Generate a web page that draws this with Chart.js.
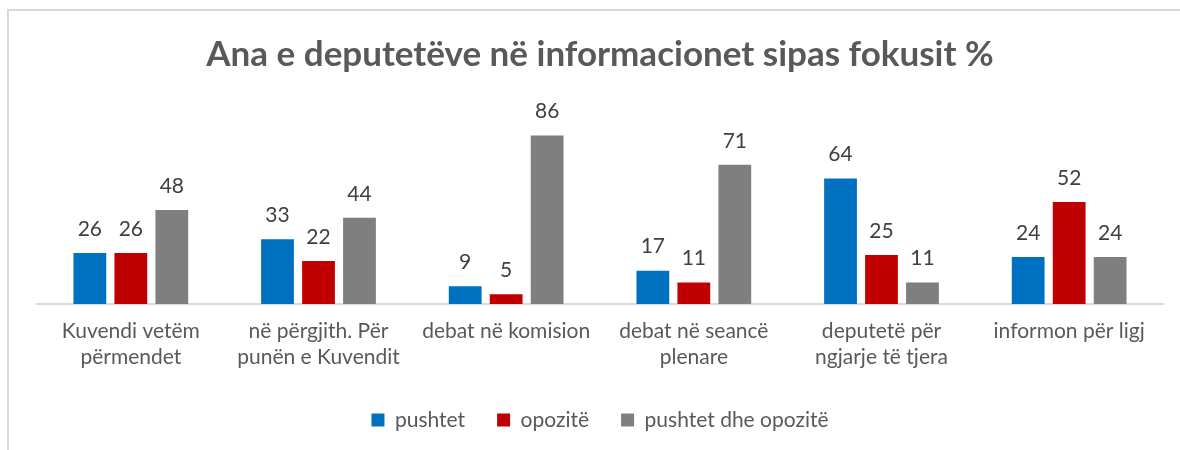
<!DOCTYPE html>
<html>
<head>
<meta charset="utf-8">
<script src="https://cdn.jsdelivr.net/npm/chart.js@4/dist/chart.umd.min.js"></script>
<style>
  html, body { margin: 0; padding: 0; background: #fff; overflow: hidden; }
  #wrap { position: relative; width: 1180px; height: 450px; }
  #frame { position: absolute; left: 7px; top: 9px; width: 1200px; height: 500px;
           border-left: 2px solid #d9d9d9; border-top: 2px solid #d9d9d9; }
  canvas { position: absolute; left: 0; top: 0; }
</style>
</head>
<body>
<div id="wrap">
  <div id="frame"></div>
  <canvas id="c" width="1180" height="450"></canvas>
</div>
<script>
const titleText = "Ana e deputetëve në informacionet sipas fokusit %";
const categories = [
  ["Kuvendi vetëm", "përmendet"],
  ["në përgjith. Për", "punën e Kuvendit"],
  "debat në komision",
  ["debat në seancë", "plenare"],
  ["deputetë për", "ngjarje të tjera"],
  "informon për ligj"
];
const seriesNames = ["pushtet", "opozitë", "pushtet dhe opozitë"];
const pushtet = [26, 33, 9, 17, 64, 24];
const opozite = [26, 22, 5, 11, 25, 52];
const pushtetDheOpozite = [48, 44, 86, 71, 11, 24];
const colors = ["#0070C0", "#C00000", "#7F7F7F"];

const FONT = "Lato, 'Open Sans', sans-serif";

const valueLabels = {
  id: 'valueLabels',
  afterDatasetsDraw(chart) {
    const ctx = chart.ctx;
    ctx.save();
    ctx.font = "21px " + FONT;
    ctx.fillStyle = "#404040";
    ctx.textAlign = "center";
    ctx.textBaseline = "middle";
    chart.data.datasets.forEach((ds, di) => {
      const meta = chart.getDatasetMeta(di);
      meta.data.forEach((bar, i) => {
        ctx.fillText(String(ds.data[i]), bar.x, bar.y - 24);
      });
    });
    ctx.restore();
  }
};

new Chart(document.getElementById('c'), {
  type: 'bar',
  data: {
    labels: categories,
    datasets: [
      { label: seriesNames[0], data: pushtet, backgroundColor: colors[0] },
      { label: seriesNames[1], data: opozite, backgroundColor: colors[1] },
      { label: seriesNames[2], data: pushtetDheOpozite, backgroundColor: colors[2] }
    ]
  },
  options: {
    responsive: false,
    animation: false,
    devicePixelRatio: 1,
    layout: { padding: { left: 37, right: 17, top: 0, bottom: 9.5 } },
    datasets: { bar: { categoryPercentage: 0.655, barPercentage: 0.8 } },
    scales: {
      x: {
        grid: { display: false, drawTicks: false },
        border: { display: true, color: "#d9d9d9", width: 2 },
        ticks: { color: "#595959", font: { family: FONT, size: 21, lineHeight: '26px' }, padding: 14, maxRotation: 0, autoSkip: false },
        afterFit(scale) { scale.height = 73.5; }
      },
      y: { display: false, min: 0, max: 100 }
    },
    plugins: {
      title: {
        display: true, text: titleText, color: "#595959",
        font: { family: FONT, size: 35, weight: 'bold', lineHeight: '42px' },
        padding: { top: 34, bottom: 32 }
      },
      legend: {
        position: 'bottom',
        labels: { color: "#595959", font: { family: FONT, size: 21 }, boxWidth: 13, boxHeight: 13, padding: 32 }
      },
      tooltip: { enabled: false }
    }
  },
  plugins: [valueLabels]
});
</script>
</body>
</html>
